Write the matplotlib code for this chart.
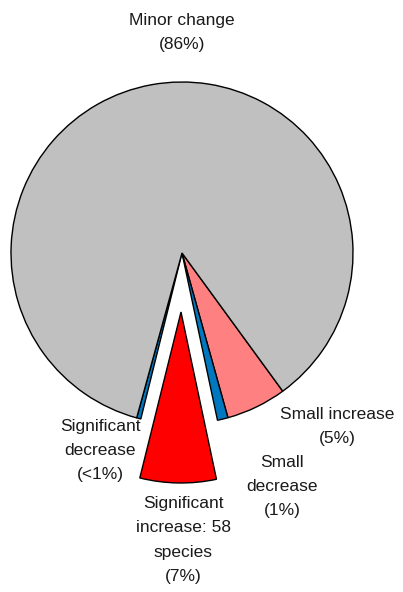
import matplotlib.pyplot as plt

# slices in clockwise order, starting at the right edge of the grey wedge
labels = ["Small increase\n(5%)", "Small\ndecrease\n(1%)",
          "Significant\nincrease: 58\nspecies\n(7%)",
          "Significant\ndecrease\n(<1%)", "Minor change\n(86%)"]
values = [5.7, 1.0, 7.2, 0.4, 85.7]
colors = ["#FF8080", "#0078C0", "#FF0000", "#0078C0", "#C0C0C0"]
explode = [0, 0, 0.345, 0, 0]

plt.rcParams['font.family'] = ['Liberation Sans', 'DejaVu Sans']

fig = plt.figure(figsize=(4.03, 5.92), dpi=100)
ax = fig.add_axes([0, 0, 1, 1])

R = 171.0  # pie radius in pixels
cx, cy = 182.0, 253.0

ax.pie(values, colors=colors, explode=explode, startangle=-53.9,
       counterclock=False, radius=1.0,
       wedgeprops=dict(edgecolor='black', linewidth=1.0))

ax.set_xlim(-cx / R, (403 - cx) / R)
ax.set_ylim(-(592 - cy) / R, cy / R)
ax.set_aspect('auto')
ax.axis('off')

# label positions (pixels from top-left)
label_pos = [(337, 427), (282, 487), (183, 540), (100, 451), (182, 33)]
for text, (px, py) in zip(labels, label_pos):
    ax.text((px - cx) / R, (cy - py) / R, text, ha='center', va='center',
            fontsize=12.5, linespacing=1.75, color='#1a1a1a')

fig.savefig("out.png", dpi=100)
